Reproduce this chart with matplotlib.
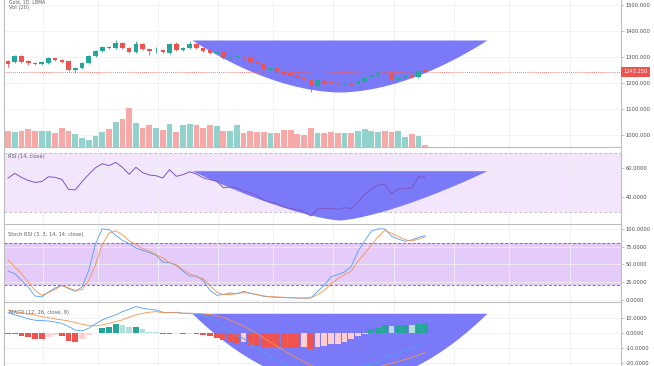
import numpy as np
import matplotlib
matplotlib.use("Agg")
import matplotlib.pyplot as plt
import matplotlib.transforms as mtransforms

# ---------------- data ----------------
opens = [1284.6, 1280.8, 1303.8, 1284.6, 1277, 1273, 1277, 1296, 1288.5, 1284.6,
         1250, 1257.7, 1277, 1303.8, 1323, 1338.5, 1334.6, 1353.8, 1334.6, 1319,
         1350, 1330.8, 1326, 1327, 1315.4, 1350, 1327, 1334.6, 1350, 1334.6,
         1327, 1315.4, 1319, 1296, 1300, 1300, 1300, 1280.8, 1273, 1250,
         1257.7, 1242, 1234.6, 1227, 1219, 1211.5, 1188.5, 1207.7, 1204, 1200,
         1196, 1200, 1200, 1204, 1223, 1230.8, 1238.5, 1234.6, 1215.4, 1219,
         1230.8, 1223, 1250]
closes = [1273, 1303.8, 1280.8, 1277, 1273, 1280.8, 1296, 1288.5, 1280.8, 1250,
          1257.7, 1277, 1303.8, 1323, 1338.5, 1334.6, 1353.8, 1334.6, 1319, 1350,
          1330.8, 1323, 1327, 1319, 1350, 1327, 1334.6, 1350, 1334.6, 1323,
          1315.4, 1319, 1296, 1300, 1303.8, 1296, 1280.8, 1273, 1254, 1257.7,
          1242, 1234.6, 1227, 1219, 1215.4, 1188.5, 1211.5, 1200, 1200, 1196,
          1200, 1188.5, 1207.7, 1219, 1230.8, 1238.5, 1234.6, 1215.4, 1219, 1227,
          1223, 1246, 1243.25]
highs = [1288, 1308, 1306, 1290, 1280, 1285, 1300, 1298, 1292, 1287,
         1260, 1280, 1306, 1326, 1342, 1342, 1365, 1357, 1338, 1362,
         1354, 1333, 1338, 1330, 1353, 1358, 1338, 1362, 1354, 1338,
         1330, 1322, 1322, 1303, 1306, 1303, 1303, 1284, 1276, 1261,
         1261, 1245, 1238, 1230, 1222, 1215, 1215, 1211, 1207, 1204,
         1204, 1204, 1211, 1222, 1234, 1242, 1242, 1238, 1223, 1230,
         1234, 1250, 1254]
lows = [1261, 1277, 1278, 1270, 1269, 1270, 1274, 1286, 1276, 1247,
        1238, 1254, 1274, 1300, 1320, 1330, 1332, 1331, 1315, 1315,
        1327, 1308, 1315, 1316, 1312, 1323, 1324, 1331, 1330, 1319,
        1311, 1312, 1292, 1293, 1297, 1293, 1277, 1269, 1250, 1246,
        1238, 1231, 1223, 1215, 1211, 1165, 1185, 1196, 1196, 1192,
        1192, 1185, 1196, 1200, 1219, 1227, 1219, 1211, 1211, 1215,
        1219, 1219, 1240]
volumes = [160, 150, 160, 183, 160, 160, 160, 143, 193, 160,
           127, 87, 73, 107, 150, 183, 253, 277, 387, 240,
           187, 220, 187, 167, 227, 147, 220, 230, 217, 193,
           220, 210, 160, 160, 217, 140, 160, 150, 150, 140,
           140, 167, 167, 127, 117, 187, 143, 143, 150, 137,
           137, 137, 160, 177, 160, 150, 160, 150, 160, 103,
           127, 110, 20]
rsi = [53.0, 56.2, 53.5, 51.4, 50.1, 50.6, 53.9, 53.5, 52.1, 45.4,
       45.0, 50.6, 55.5, 60.0, 62.7, 61.4, 63.6, 60.3, 55.5, 60.3,
       56.7, 55.1, 54.6, 53.0, 58.7, 54.2, 55.3, 57.3, 55.7, 53.2,
       51.9, 51.0, 46.5, 47.0, 46.5, 44.3, 43.2, 41.1, 38.2, 36.6,
       35.7, 33.7, 32.5, 31.6, 30.3, 27.4, 32.1, 32.5, 32.5, 31.9,
       33.0, 32.5, 37.0, 42.0, 45.6, 48.3, 48.8, 42.7, 45.6, 46.1,
       46.1, 53.9, 53.5]
stoch_k = [40.4, 36.6, 27.1, 17.7, 5.0, 3.6, 10.7, 16.3, 20.0, 15.4,
           11.6, 17.7, 41.3, 79.0, 100.0, 99.0, 91.0, 83.8, 79.0, 73.0,
           69.6, 66.4, 62.6, 53.1, 52.2, 48.4, 40.0, 33.3, 33.3, 27.0,
           13.0, 6.0, 7.0, 9.3, 8.3, 11.6, 8.8, 7.0, 4.6, 3.6,
           3.2, 2.7, 2.2, 2.2, 1.8, 2.2, 11.6, 20.0, 32.4, 35.2,
           39.0, 46.7, 68.2, 82.8, 97.0, 100.0, 100.0, 89.4, 85.7, 82.4,
           84.3, 88.0, 90.5]
stoch_d = [56.5, 46.0, 36.6, 24.8, 13.0, 6.0, 9.8, 14.5, 20.0, 16.3,
           13.0, 13.9, 27.1, 49.3, 77.6, 94.0, 97.3, 91.7, 83.2, 77.6,
           72.0, 68.7, 63.5, 58.8, 52.2, 49.3, 42.3, 36.6, 31.9, 29.5,
           20.1, 10.7, 7.0, 7.0, 8.3, 9.8, 8.8, 7.0, 5.0, 4.1,
           3.6, 3.2, 2.7, 2.2, 2.2, 2.2, 7.0, 13.0, 22.0, 29.5,
           35.2, 40.0, 54.0, 65.0, 77.6, 88.5, 98.0, 93.7, 89.4, 84.7,
           82.8, 85.7, 88.5]
macd = [13.9, 12.4, 11.2, 9.7, 8.8, 8.5, 8.3, 7.6, 6.7, 4.5,
        2.2, 1.6, 3.4, 6.3, 9.0, 10.8, 12.4, 14.6, 16.2, 18.0,
        16.9, 16.2, 15.7, 14.2, 13.9, 14.2, 13.5, 13.5, 12.8, 11.8,
        10.0, 7.5, 4.5, 1.5, -1.5, -3.5, -7.0, -10.0, -13.0, -15.5,
        -18.0, -20.5, -23.0, -25.5, -27.0, -29.5, -30.0, -30.0, -29.5, -28.5,
        -27.0, -25.0, -23.0, -21.5, -21.0, -19.3, -16.5, -15.0, -13.5, -11.8,
        -10.8, -8.2, -6.2]
signal = [15.7, 14.6, 13.9, 13.0, 12.4, 11.2, 10.6, 9.7, 9.0, 8.3,
          7.2, 6.1, 5.2, 5.0, 5.6, 6.7, 7.9, 9.0, 10.8, 12.4,
          13.5, 14.2, 14.6, 13.9, 13.9, 13.9, 13.5, 13.5, 13.4, 13.1,
          12.6, 11.8, 10.6, 9.0, 7.0, 4.8, 2.4, -0.3, -3.2, -6.0,
          -8.8, -11.6, -14.3, -16.9, -19.3, -21.5, -23.2, -24.6, -25.6, -26.1,
          -26.2, -25.9, -25.3, -24.6, -23.7, -22.7, -21.5, -20.3, -19.1, -17.7,
          -16.3, -14.7, -13.0]
hist = [-0.3, -0.8, -1.8, -2.7, -3.8, -4.0, -2.2, -1.1, -1.8, -5.0,
        -5.8, -4.0, -1.1, 0.5, 3.4, 4.5, 6.3, 5.6, 4.1, 4.5,
        2.7, 1.1, 0.7, -0.3, -0.5, -0.3, -0.5, -0.3, -0.5, -0.9,
        -1.8, -3.4, -4.5, -5.6, -6.5, -6.0, -7.9, -8.6, -9.0, -9.1,
        -9.2, -9.5, -10.0, -10.1, -9.0, -10.8, -9.5, -8.5, -7.5, -7.0,
        -5.6, -4.0, -1.8, -0.6, 2.7, 3.4, 5.6, 5.2, 5.6, 5.8,
        5.5, 6.5, 6.8]

price_ticks = [1000, 1100, 1200, 1300, 1400, 1500]
rsi_ticks = [40, 60]
stoch_ticks = [0, 25, 50, 75, 100]
macd_ticks = [-20, -10, 0, 10]
time_grid = [5.2, 13.4, 22.3, 31.2, 39.4, 48.3, 57.4, 66.3, 74.4, 83.5]

rsi_bands = (30, 70)
stoch_bands = (20, 80)

# drawn "cup" arcs (bar index range, top value, bottom value per pane)
cup_start, cup_end = 27.34, 71.17
cup_price = (1365.4, 1165.4)
cup_rsi = (58.0, 24.7)
cup_macd = (13.5, -35.0)

header = "Gold, 1D, LBMA"
titles = ["Vol (20)", "RSI (14, close)", "Stoch RSI (3, 3, 14, 14, close)",
          "MACD (12, 26, close, 9)"]

# ---------------- styling ----------------
UP = "#26a69a"
DOWN = "#ef5350"
VOL_UP = "#92d2cc"
VOL_DOWN = "#f7a9a7"
CUP = "#7a7af8"
GRID = "#eef0f3"
SEP = "#bdbdbd"
LABEL = "#4a4a4a"
FS = 3.7

W, H = 654, 366
LEFT, RIGHT = 4, 621
XMIN, XMAX = -0.6, 91.1

fig = plt.figure(figsize=(W / 100, H / 100), dpi=100)
fig.patch.set_facecolor("white")


def pane(top, bottom):
    return fig.add_axes([LEFT / W, 1 - bottom / H, (RIGHT - LEFT) / W, (bottom - top) / H])


def style(ax, ticks, fmt, ylim, top_sep=True):
    ax.set_xlim(XMIN, XMAX)
    ax.set_ylim(*ylim)
    ax.yaxis.tick_right()
    ax.yaxis.set_label_position("right")
    ax.set_yticks(ticks)
    ax.set_yticklabels([fmt.format(t) for t in ticks])
    ax.tick_params(axis="y", which="both", left=False, labelleft=False,
                   right=True, labelright=True,
                   length=2, width=0.4, pad=1.5, labelsize=FS,
                   color="#9a9a9a", labelcolor=LABEL)
    ax.set_xticks(time_grid)
    ax.tick_params(axis="x", length=0, labelbottom=False)
    ax.grid(True, color=GRID, lw=0.6, zorder=0)
    ax.set_axisbelow(True)
    for s in ["left", "right"]:
        ax.spines[s].set_color(SEP)
        ax.spines[s].set_linewidth(0.8)
    ax.spines["bottom"].set_visible(False)
    if top_sep:
        ax.spines["top"].set_color(SEP)
        ax.spines["top"].set_linewidth(0.8)
    else:
        ax.spines["top"].set_visible(False)


def cup(ax, top, bottom, power):
    xs = np.linspace(cup_start, cup_end, 400)
    xc = (cup_start + cup_end) / 2
    half = (cup_end - cup_start) / 2
    u = np.abs((xs - xc) / half)
    ys = bottom + (top - bottom) * u ** power
    ax.fill_between(xs, ys, top, color=CUP, lw=0, zorder=2)


x = np.arange(len(opens))
o = np.array(opens); c = np.array(closes)
h = np.array(highs); l = np.array(lows)
up = c >= o

# ---------- price + volume pane ----------
ax_p = pane(0, 147)
ax_v = ax_p.twinx()
ax_v.set_ylim(0, max(volumes) * 3.77)
ax_v.set_xlim(XMIN, XMAX)
ax_v.axis("off")
ax_v.bar(x, volumes, width=0.86, color=np.where(up, VOL_UP, VOL_DOWN), lw=0, zorder=2)
style(ax_p, price_ticks, "{:.3f}", (953.8, 1519.2), top_sep=False)

cup(ax_p, *cup_price, 1.8)
col = np.where(up, UP, DOWN)
ax_p.vlines(x, l, h, colors=col, lw=0.6, zorder=3)
body = np.maximum(np.abs(c - o), 2.5)
ax_p.bar(x, body, bottom=np.minimum(o, c) - (body - np.abs(c - o)) / 2,
         width=0.68, color=col, lw=0, zorder=4)
ax_p.axhline(closes[-1], color=DOWN, lw=0.6, ls=(0, (1, 1.5)), zorder=2.5)
trans = mtransforms.blended_transform_factory(ax_p.transAxes, ax_p.transData)
ax_p.text(1.004, closes[-1], "{:.3f}".format(closes[-1]), transform=trans,
          ha="left", va="center", fontsize=FS, color="white", zorder=10,
          clip_on=False,
          bbox=dict(boxstyle="square,pad=0.45", fc=DOWN, ec="none"))

# ---------- RSI pane ----------
ax_r = pane(147, 224)
style(ax_r, rsi_ticks, "{:.4f}", (22.0, 74.0))
ax_r.axhspan(*rsi_bands, color="#f3e6fc", lw=0, zorder=0.5)
for b in rsi_bands:
    ax_r.axhline(b, color="#bba9cc", lw=0.6, ls=(0, (3, 3)), zorder=1)
cup(ax_r, *cup_rsi, 1.4)
ax_r.plot(x, rsi, color="#7e57c2", lw=0.7, zorder=4)

# ---------- Stoch RSI pane ----------
ax_s = pane(224, 302)
style(ax_s, stoch_ticks, "{:.4f}", (-3.5, 106.9))
ax_s.axhspan(*stoch_bands, color="#e4cbf9", lw=0, zorder=0.5)
for b in stoch_bands:
    ax_s.axhline(b, color="#7f7390", lw=0.7, ls=(0, (3, 2)), zorder=1)
ax_s.plot(x, stoch_k, color="#4f9ff5", lw=0.6, zorder=4)
ax_s.plot(x, stoch_d, color="#f5924a", lw=0.6, zorder=4)

# ---------- MACD pane ----------
ax_m = pane(302, 366)
style(ax_m, macd_ticks, "{:.4f}", (-22.1, 21.1))
cup(ax_m, *cup_macd, 2.0)
hcols = []
for i, v in enumerate(hist):
    prev = hist[i - 1] if i > 0 else v
    if v >= 0:
        hcols.append("#26a69a" if v >= prev else "#b2dfdb")
    else:
        hcols.append("#ffcdd2" if v > prev else "#ef5350")
ax_m.bar(x, hist, width=0.86, color=hcols, lw=0, zorder=3)
ax_m.plot(x, macd, color="#4f9ff5", lw=0.6, zorder=4)
ax_m.plot(x, signal, color="#f5924a", lw=0.6, zorder=4)

# ---------- titles ----------
TC = "#5d606b"
fig.text(9 / W, 1 - 2.4 / H, header, fontsize=3.3, color=TC, va="center", ha="left")
fig.text(9 / W, 1 - 7.8 / H, titles[0], fontsize=FS, color=TC, va="center", ha="left")
fig.text(8 / W, 1 - 156.5 / H, titles[1], fontsize=FS, color=TC, va="center", ha="left")
fig.text(8 / W, 1 - 234.5 / H, titles[2], fontsize=FS, color=TC, va="center", ha="left")
fig.text(9 / W, 1 - 312.5 / H, titles[3], fontsize=FS, color=TC, va="center", ha="left")

fig.savefig("out.png", dpi=100, facecolor="white")
